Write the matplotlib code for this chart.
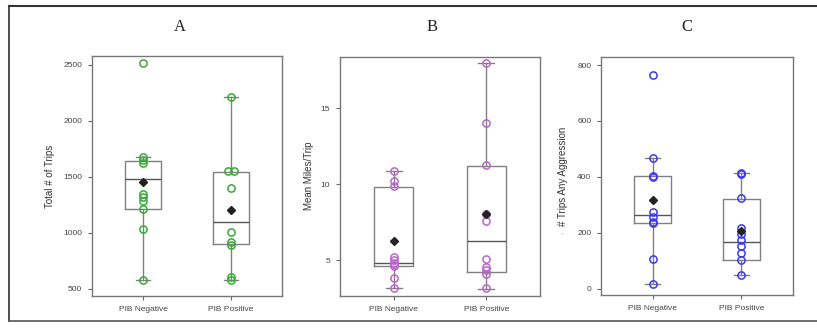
import matplotlib
matplotlib.use("Agg")
import matplotlib.pyplot as plt

categories = ["PIB Negative", "PIB Positive"]
panel_titles = ["A", "B", "C"]
y_labels = ["Total # of Trips", "Mean Miles/Trip", "# Trips Any Aggression"]

# individual observations
a_neg = [2520, 1682, 1652, 1628, 1348, 1319, 1288, 1211, 1038, 580]
a_pos = [2212, 1556, 1556, 1405, 1012, 922, 893, 610, 580]
b_neg = [10.87, 10.2, 9.89, 5.24, 5.02, 4.8, 4.7, 4.62, 3.82, 3.16]
b_pos = [17.96, 14.05, 11.27, 8.05, 7.6, 5.07, 4.58, 4.36, 4.1, 3.15]
c_neg = [764, 466, 404, 400, 275, 257, 239, 234, 106, 16]
c_pos = [413, 410, 323, 216, 195, 174, 153, 126, 102, 49]

# box statistics as drawn: (whislo, q1, median, q3, whishi, mean)
a_box_neg = [580, 1214, 1478, 1646, 1680, 1458]
a_box_pos = [580, 900, 1101, 1542, 2212, 1205]
b_box_neg = [3.16, 4.62, 4.84, 9.8, 10.87, 6.25]
b_box_pos = [3.11, 4.23, 6.29, 11.22, 17.96, 8.05]
c_box_neg = [16, 234, 263, 404, 466, 317]
c_box_pos = [49, 102, 168, 321, 413, 206]

y_ticks = [[500, 1000, 1500, 2000, 2500], [5, 10, 15], [0, 200, 400, 600, 800]]
y_limits = [(437, 2580), (2.65, 18.37), (-23, 829)]

points = [(a_neg, a_pos), (b_neg, b_pos), (c_neg, c_pos)]
boxes = [(a_box_neg, a_box_pos), (b_box_neg, b_box_pos), (c_box_neg, c_box_pos)]
colors = ["#3aa83a", "#bb66cc", "#3a3aee"]

W, H = 817, 329
fig = plt.figure(figsize=(W / 100, H / 100), dpi=100)
plt.rcParams["font.family"] = ["Liberation Sans", "DejaVu Sans"]

# outer frame
fig.add_artist(plt.Line2D([9 / W, 9 / W], [1 - 6 / H, 1 - 321 / H], color="#333333", lw=1.2,
                          transform=fig.transFigure))
fig.add_artist(plt.Line2D([9 / W, 1.0], [1 - 6 / H, 1 - 6 / H], color="#333333", lw=1.5,
                          transform=fig.transFigure))
fig.add_artist(plt.Line2D([9 / W, 1.0], [1 - 321 / H, 1 - 321 / H], color="#555555", lw=1.2,
                          transform=fig.transFigure))

axes_px = [(92, 282, 56, 296), (340, 540, 57, 296), (601, 793, 57, 295)]
title_x = [180, 432, 687]
ylabel_x = [50, 309, 563]

gray = "#808080"
for i in range(3):
    l, r, t, b = axes_px[i]
    ax = fig.add_axes([l / W, 1 - b / H, (r - l) / W, (b - t) / H])
    stats = []
    for bs in boxes[i]:
        stats.append(dict(whislo=bs[0], q1=bs[1], med=bs[2], q3=bs[3], whishi=bs[4],
                          mean=bs[5], fliers=[]))
    ax.bxp(stats, positions=[1, 2], widths=0.42, showmeans=False, showfliers=False,
           boxprops=dict(color=gray, lw=1.0),
           whiskerprops=dict(color=gray, lw=1.0),
           capprops=dict(color=gray, lw=1.0),
           capwidths=0.17,
           medianprops=dict(color="#555555", lw=1.0), zorder=1)
    for j, vals in enumerate(points[i]):
        xs = [j + 1] * len(vals)
        # side-by-side duplicates in panel A positive
        if i == 0 and j == 1:
            xs[1] = 2 - 0.035
            xs[2] = 2 + 0.035
        ax.plot(xs, vals, linestyle="none", marker="o", markersize=5.2,
                markerfacecolor="none", markeredgecolor=colors[i], markeredgewidth=1.1, zorder=3)
    ax.plot([1, 2], [bs[5] for bs in boxes[i]], linestyle="none", marker="D",
            markerfacecolor="#222222", markeredgecolor="#222222", markersize=4.5, zorder=4)
    ax.set_xlim(0.42, 2.58)
    ax.set_ylim(*y_limits[i])
    ax.set_xticks([1, 2])
    ax.set_xticklabels(categories)
    ax.set_yticks(y_ticks[i])
    ax.tick_params(axis="both", labelsize=6, colors="#666666", length=3, width=0.8, pad=4,
                   labelcolor="#444444")
    for sp in ax.spines.values():
        sp.set_color("#777777")
        sp.set_linewidth(1.0)
    fig.text(ylabel_x[i] / W, 1 - 176 / H, y_labels[i], rotation=90, ha="center", va="center",
             fontsize=7, color="#333333")
    fig.text(title_x[i] / W, 1 - 27 / H, panel_titles[i], ha="center", va="center",
             fontsize=12, family="Liberation Serif", color="#222222")

fig.text(561 / W, 1 - 233 / H, ".", ha="center", va="center", fontsize=6, color="#777777")

fig.savefig("out.png", dpi=100)
